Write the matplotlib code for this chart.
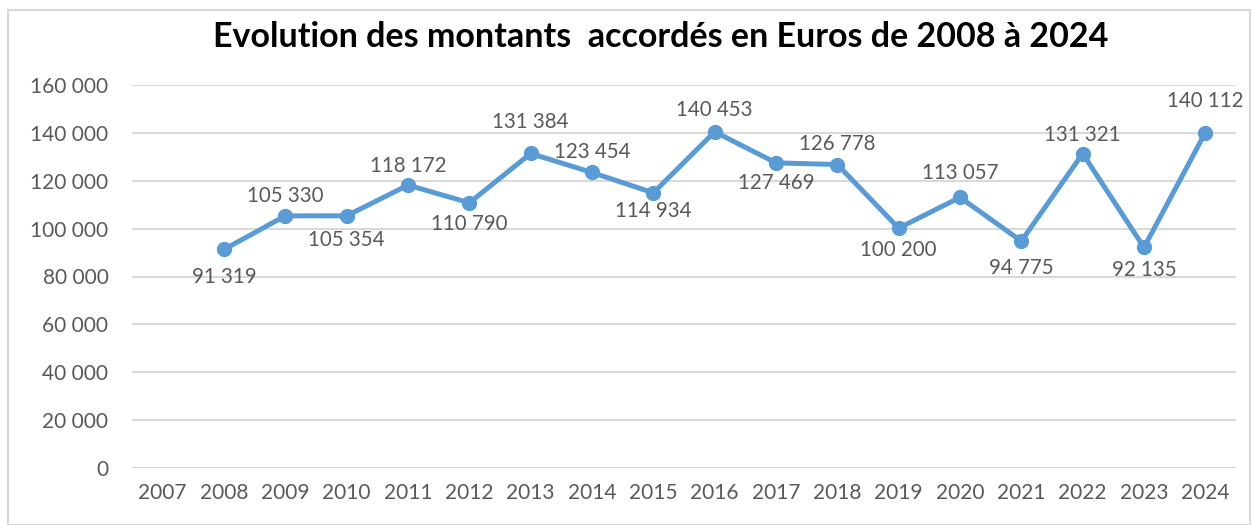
import matplotlib
matplotlib.use("Agg")
import matplotlib.pyplot as plt
from matplotlib.patches import Rectangle

# data
years = ["2007", "2008", "2009", "2010", "2011", "2012", "2013", "2014", "2015",
         "2016", "2017", "2018", "2019", "2020", "2021", "2022", "2023", "2024"]
point_years = years[1:]
amounts = [91319, 105330, 105354, 118172, 110790, 131384, 123454, 114934,
           140453, 127469, 126778, 100200, 113057, 94775, 131321, 92135, 140112]
yticks = [0, 20000, 40000, 60000, 80000, 100000, 120000, 140000, 160000]
title = "Evolution des montants  accordés en Euros de 2008 à 2024"

# label offsets (pixels, vertical), + is above
label_dy = [-28, 20, -24, 19, -21, 31, 20, -18, 22, -20, 21, -22, 24, -27, 19, -23, 32]

BLUE = "#5B9BD5"
TXT = "#595959"
GRID = "#D9D9D9"

plt.rcParams["font.family"] = ["Lato", "DejaVu Sans"]

fig = plt.figure(figsize=(12.52, 5.25), dpi=100)
fig.patches.append(Rectangle((8 / 1252, 0), 1242 / 1252, 1 - 10 / 525,
                             transform=fig.transFigure, fill=False,
                             edgecolor=GRID, linewidth=1.5))

ax = fig.add_axes([132 / 1252, 1 - 468 / 525, (1236 - 132) / 1252, (468 - 85) / 525])

xpos = list(range(len(years)))
px = [years.index(y) for y in point_years]
ax.plot(px, amounts, color=BLUE, linewidth=3.6, marker="o", markersize=10,
        solid_capstyle="round", zorder=3)

for x, v, dy in zip(px, amounts, label_dy):
    s = f"{v:,}".replace(",", " ")
    ax.annotate(s, (x, v), xytext=(0, dy), textcoords="offset pixels",
                ha="center", va="center", fontsize=14.8, color=TXT)

ax.set_xlim(-0.5, len(years) - 0.5)
ax.set_ylim(0, 160000)
ax.set_xticks(xpos)
ax.set_xticklabels(years)
ax.set_yticks(yticks)
ax.set_yticklabels([f"{t:,}".replace(",", " ") for t in yticks])
ax.tick_params(axis="both", length=0, labelsize=15, labelcolor=TXT)
ax.tick_params(axis="y", pad=17)
ax.tick_params(axis="x", pad=11)
ax.grid(axis="y", color=GRID, linewidth=1.5)
ax.set_axisbelow(True)
for sp in ax.spines.values():
    sp.set_visible(False)

fig.text(661 / 1252, 1 - 37 / 525, title, ha="center", va="center",
         fontsize=24.5, fontweight="bold", color="black")

fig.savefig("out.png", dpi=100)
